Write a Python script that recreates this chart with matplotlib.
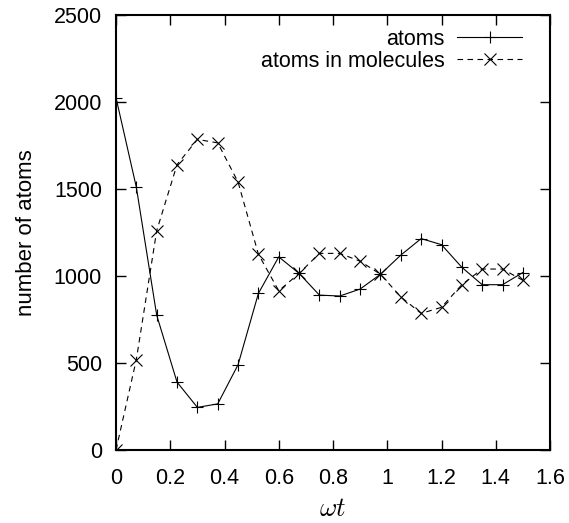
import numpy as np
import matplotlib
matplotlib.use("Agg")
import matplotlib.pyplot as plt

plt.rcParams['font.family'] = ['Liberation Sans', 'DejaVu Sans']
plt.rcParams['mathtext.fontset'] = 'cm'

# time steps (omega t) and populations
omega_t = [0.0, 0.075, 0.15, 0.225, 0.3, 0.375, 0.45, 0.525, 0.6, 0.675, 0.75,
           0.825, 0.9, 0.975, 1.05, 1.125, 1.2, 1.275, 1.35, 1.425, 1.5]
atoms = [2025, 1510, 775, 390, 245, 265, 490, 900, 1110, 1015, 890,
         885, 925, 1010, 1120, 1215, 1180, 1050, 950, 950, 1020]
atoms_in_molecules = [0, 520, 1260, 1640, 1785, 1765, 1540, 1125, 915, 1015, 1130,
                      1130, 1085, 1010, 880, 785, 820, 950, 1040, 1040, 975]

x_ticks = [0, 0.2, 0.4, 0.6, 0.8, 1.0, 1.2, 1.4, 1.6]
x_tick_labels = ['0', '0.2', '0.4', '0.6', '0.8', '1', '1.2', '1.4', '1.6']
y_ticks = [0, 500, 1000, 1500, 2000, 2500]

fig = plt.figure(figsize=(5.69, 5.23), dpi=100)
ax = fig.add_axes([116 / 569, 73 / 523, 434 / 569, 435 / 523])

ax.plot(omega_t, atoms, color='black', lw=0.8, marker='+', markersize=9,
        markeredgewidth=0.8, label='atoms')
ax.plot(omega_t, atoms_in_molecules, color='black', lw=0.8, ls=(0, (5, 4)),
        marker='x', markersize=8, markeredgewidth=0.8, label='atoms in molecules')

ax.set_xlim(0, 1.6)
ax.set_ylim(0, 2500)
ax.set_xticks(x_ticks)
ax.set_xticklabels(x_tick_labels)
ax.set_yticks(y_ticks)
ax.tick_params(direction='in', length=7, width=1.0, labelsize=15.5,
               top=True, right=True)
ax.tick_params(axis='y', pad=10)
ax.tick_params(axis='x', pad=13)
for s in ax.spines.values():
    s.set_linewidth(1.5)

ax.set_xlabel(r'$\omega t$', fontsize=19, labelpad=6)
ax.set_ylabel('number of atoms', fontsize=16, labelpad=12)

ax.legend(loc='upper right', frameon=False, markerfirst=False, fontsize=15.5,
          handlelength=3.0, handletextpad=0.6, labelspacing=0.05,
          borderaxespad=0.5, borderpad=0.3,
          bbox_to_anchor=(0.975, 1.008))

fig.savefig('out.png', dpi=100)
